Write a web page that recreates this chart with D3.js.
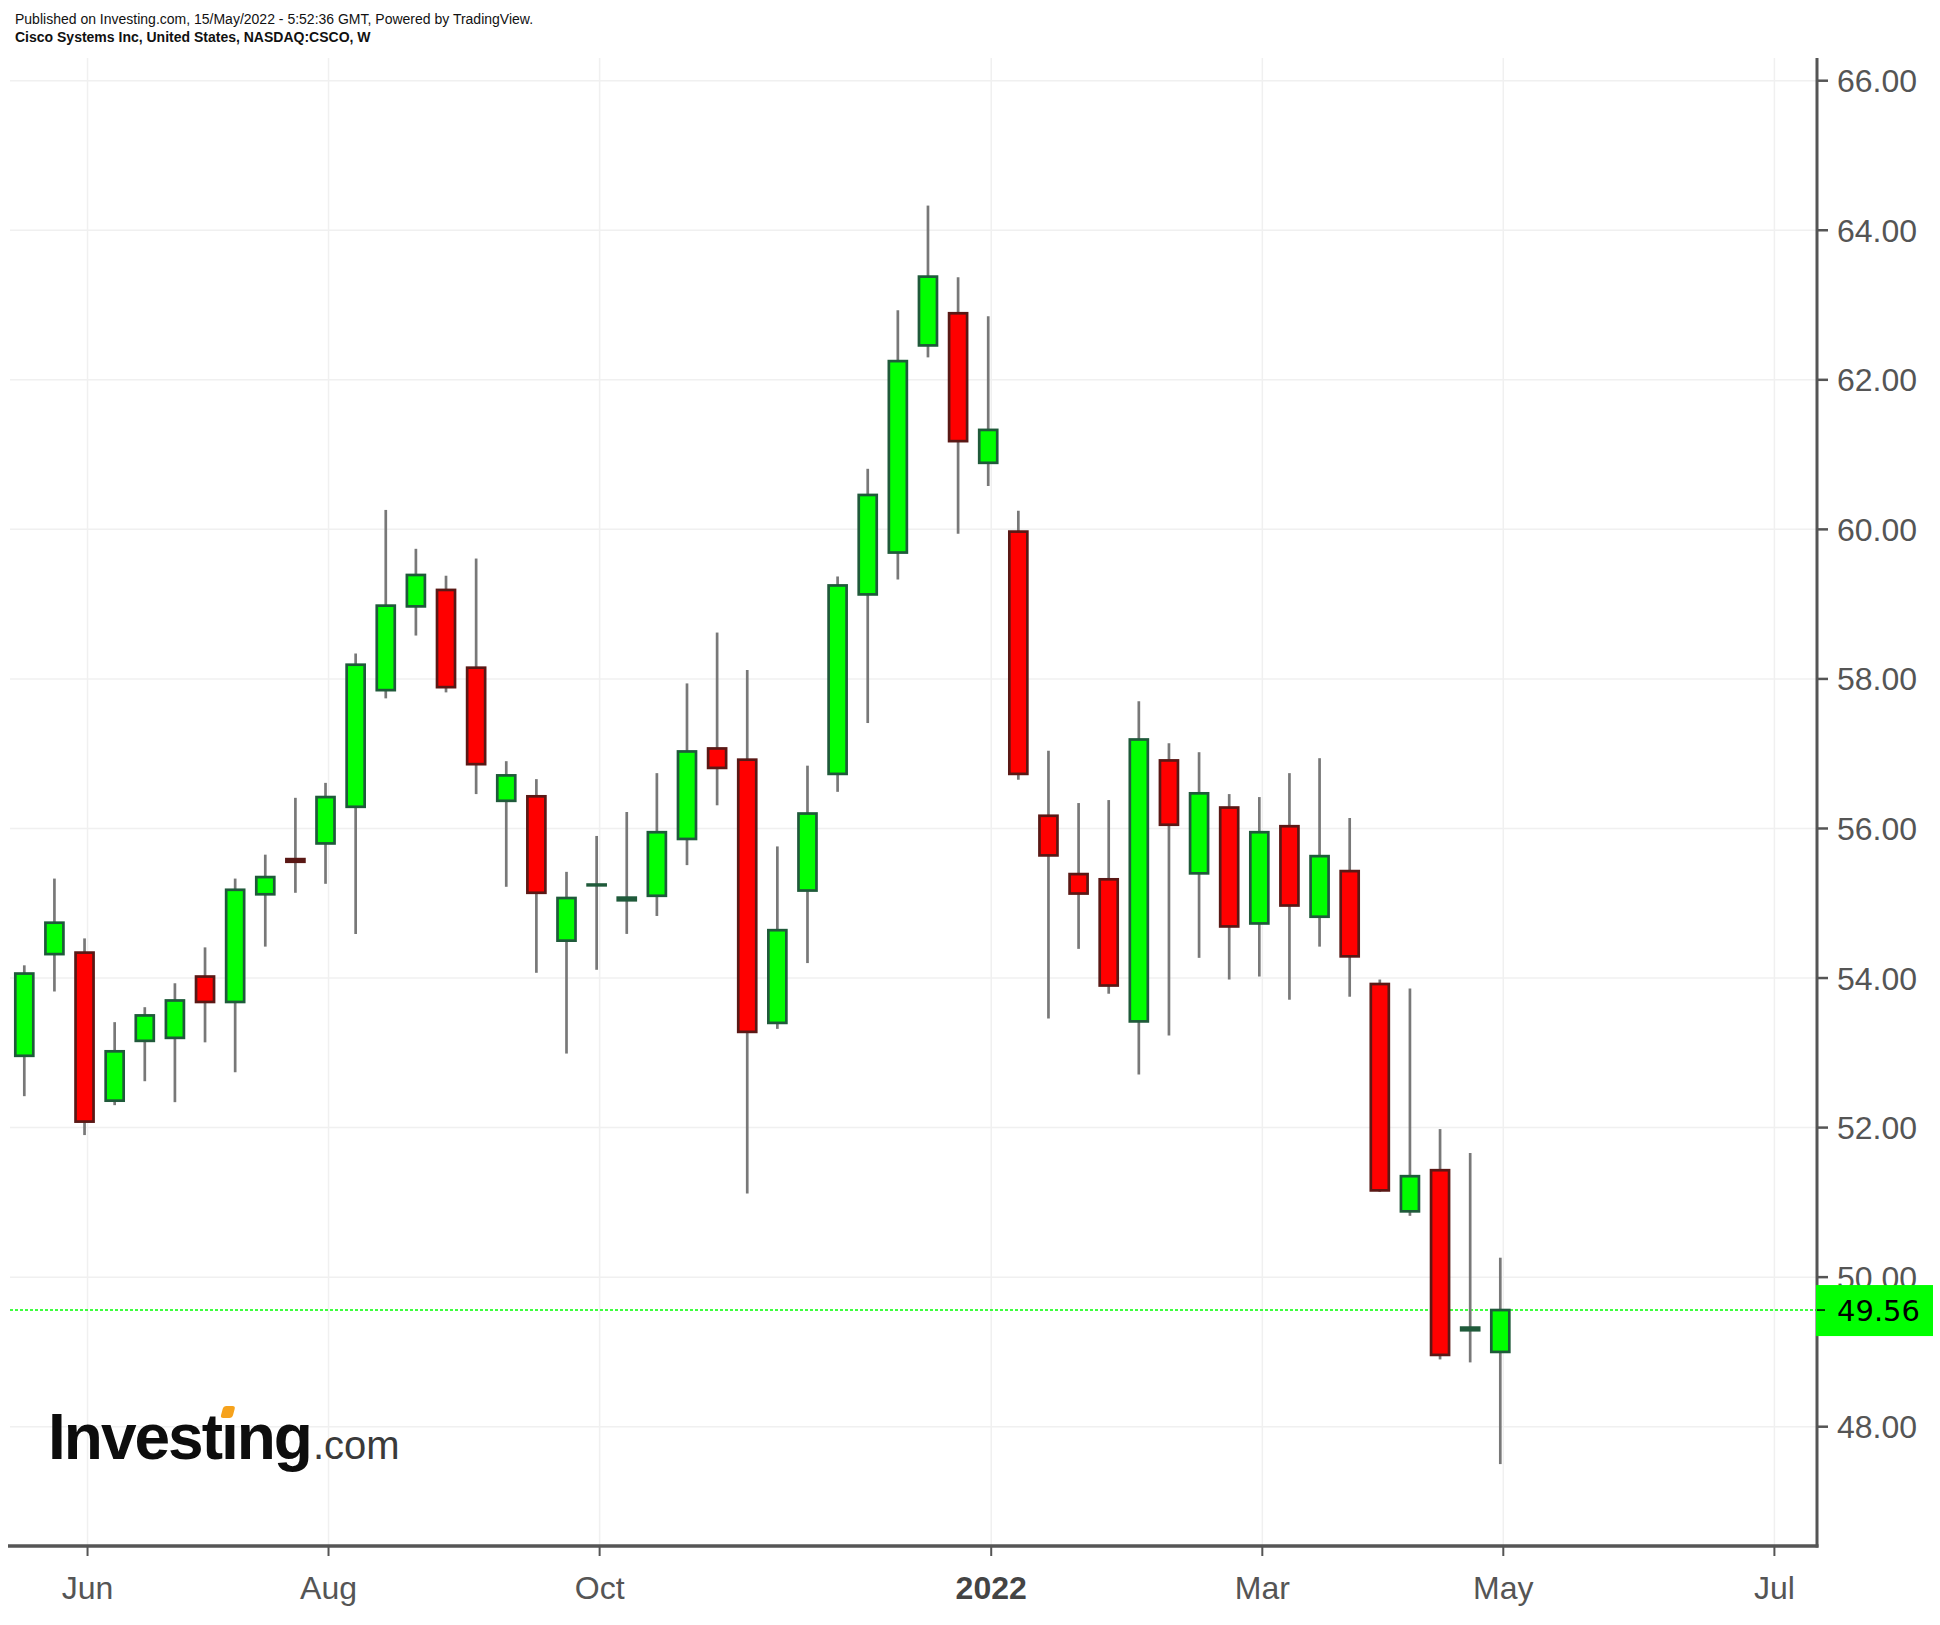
<!DOCTYPE html>
<html>
<head>
<meta charset="utf-8">
<script src="https://cdn.jsdelivr.net/npm/d3@7/dist/d3.min.js"></script>
<style>
html,body{margin:0;padding:0;background:#fff;}
svg{display:block;}
</style>
</head>
<body>
<svg id="chart" width="1940" height="1625"></svg>
<script>
// ---- data ----
const weeks = ["2021-05-31","2021-06-07","2021-06-14","2021-06-21","2021-06-28","2021-07-05","2021-07-12","2021-07-19","2021-07-26","2021-08-02",
"2021-08-09","2021-08-16","2021-08-23","2021-08-30","2021-09-06","2021-09-13","2021-09-20","2021-09-27","2021-10-04","2021-10-11",
"2021-10-18","2021-10-25","2021-11-01","2021-11-08","2021-11-15","2021-11-22","2021-11-29","2021-12-06","2021-12-13","2021-12-20",
"2021-12-27","2022-01-03","2022-01-10","2022-01-17","2022-01-24","2022-01-31","2022-02-07","2022-02-14","2022-02-21","2022-02-28",
"2022-03-07","2022-03-14","2022-03-21","2022-03-28","2022-04-04","2022-04-11","2022-04-18","2022-04-25","2022-05-02","2022-05-09"];
const openV  = [52.96,54.32,54.34,52.36,53.16,53.20,54.02,53.68,55.12,55.59,55.80,56.29,57.85,58.97,59.19,58.15,56.37,56.43,54.50,55.24,
55.04,55.10,55.86,57.07,56.92,53.40,55.17,56.73,59.13,59.69,62.46,62.89,60.89,59.97,56.17,55.39,55.32,53.42,56.91,55.40,
56.28,54.73,56.03,54.82,55.43,53.92,50.88,51.43,49.29,49.00];
const highV  = [54.17,55.33,54.53,53.41,53.61,53.93,54.41,55.33,55.65,56.41,56.61,58.34,60.26,59.74,59.38,59.61,56.90,56.66,55.42,55.90,
56.22,56.74,57.94,58.62,58.12,55.76,56.84,59.37,60.81,62.93,64.33,63.37,62.85,60.25,57.04,56.34,56.38,57.70,57.14,57.02,
56.46,56.42,56.74,56.94,56.14,53.98,53.86,51.98,51.66,50.26];
const lowV   = [52.42,53.82,51.90,52.30,52.62,52.34,53.14,52.74,54.42,55.14,55.26,54.59,57.74,58.58,57.82,56.46,55.22,54.07,52.99,54.11,
54.59,54.83,55.51,56.31,51.12,53.32,54.20,56.49,57.41,59.33,62.30,59.94,60.58,56.65,53.46,54.39,53.79,52.71,53.23,54.27,
53.98,54.02,53.71,54.42,53.75,51.14,50.82,48.90,48.86,47.50];
const closeV = [54.06,54.74,52.08,53.02,53.50,53.70,53.68,55.18,55.35,55.555,56.42,58.19,58.98,59.39,57.89,56.86,56.71,55.14,55.07,55.25,
55.075,55.95,57.03,56.81,53.28,54.64,56.20,59.25,60.46,62.25,63.38,61.18,61.33,56.73,55.64,55.13,53.90,57.19,56.05,56.47,
54.69,55.95,54.97,55.63,54.29,51.16,51.35,48.96,49.325,49.56];
const lastPrice = 49.56;
const yTicks = [48,50,52,54,56,58,60,62,64,66];
const xTickLabels = ["Jun","Aug","Oct","2022","Mar","May","Jul"];
const xTickIndex  = [2,10,19,32,41,49,58];
const xTickBold   = [false,false,false,true,false,false,false];

const candles = weeks.map((w,i)=>({date:w,o:openV[i],h:highV[i],l:lowV[i],c:closeV[i],i:i}));

// ---- layout ----
const svg = d3.select("#chart");
const plotLeft = 9, plotRight = 1817, plotTop = 58, plotBottom = 1546;
const x = d3.scaleLinear().domain([0,49]).range([24.3,1500.3]);
const y = d3.scaleLinear().domain([48,66]).range([1426.7,80.7]);
const tickShift = 3;

// header
svg.append("text").attr("x",15).attr("y",24)
  .attr("font-family","'Liberation Sans', Arial, sans-serif").attr("font-size",14).attr("fill","#111")
  .text("Published on Investing.com, 15/May/2022 - 5:52:36 GMT, Powered by TradingView.");
svg.append("text").attr("x",15).attr("y",42)
  .attr("font-family","'Liberation Sans', Arial, sans-serif").attr("font-size",14).attr("font-weight","bold").attr("fill","#111")
  .text("Cisco Systems Inc, United States, NASDAQ:CSCO, W");

// grid
const grid = svg.append("g");
grid.selectAll("line.h").data(yTicks).join("line")
  .attr("x1",plotLeft+1).attr("x2",plotRight).attr("y1",d=>y(d)).attr("y2",d=>y(d))
  .attr("stroke","#f0f0f0").attr("stroke-width",1.5);
grid.selectAll("line.v").data(xTickIndex).join("line")
  .attr("x1",d=>x(d)+tickShift).attr("x2",d=>x(d)+tickShift).attr("y1",plotTop).attr("y2",plotBottom)
  .attr("stroke","#f0f0f0").attr("stroke-width",1.5);

// logo
const logo = svg.append("g");
const inv = logo.append("text").attr("x",48).attr("y",1459)
  .attr("font-family","'Liberation Sans', Arial, sans-serif").attr("font-size",64).attr("font-weight","bold")
  .attr("letter-spacing","-2").attr("fill","#0d0d0d").text("Investıng");
let invEnd = 316, dotX = 233;
try {
  const n = inv.node();
  invEnd = 48 + n.getComputedTextLength();
  const p = n.getStartPositionOfChar(6), e = n.getEndPositionOfChar(6);
  dotX = (p.x + e.x)/2 - 1;
} catch(err) {}
logo.append("rect").attr("x",dotX-6).attr("y",1406).attr("width",12).attr("height",12)
  .attr("rx",3).attr("fill","#f6a21c").attr("transform",`skewX(-15) translate(${(1412)*Math.tan(15*Math.PI/180)},0)`);
logo.append("text").attr("x",invEnd+2).attr("y",1459)
  .attr("font-family","'Liberation Sans', Arial, sans-serif").attr("font-size",40)
  .attr("fill","#3a3a3a").text(".com");

// price line
svg.append("line").attr("x1",plotLeft+1).attr("x2",plotRight).attr("y1",y(lastPrice)).attr("y2",y(lastPrice))
  .attr("stroke","#00ff00").attr("stroke-width",1.5).attr("stroke-dasharray","3,2");

// candles
const upFill="#00ff00", upLine="#1f5a3a", dnFill="#ff0000", dnLine="#5a1815", wickCol="#787878";
const g = svg.append("g");
g.selectAll("line.wick").data(candles).join("line")
  .attr("x1",d=>x(d.i)).attr("x2",d=>x(d.i)).attr("y1",d=>y(d.h)).attr("y2",d=>y(d.l))
  .attr("stroke",wickCol).attr("stroke-width",2.7);
g.selectAll("rect.body").data(candles).join("rect")
  .attr("x",d=>x(d.i)-9).attr("width",18)
  .attr("y",d=>y(Math.max(d.o,d.c)))
  .attr("height",d=>Math.max(Math.abs(y(d.o)-y(d.c)),0.05))
  .attr("fill",d=>d.c>=d.o?upFill:dnFill)
  .attr("stroke",d=>d.c>=d.o?upLine:dnLine)
  .attr("stroke-width",2.7);

// axes
svg.append("line").attr("x1",plotRight).attr("x2",plotRight).attr("y1",plotTop).attr("y2",plotBottom+1.5)
  .attr("stroke","#555").attr("stroke-width",3);
svg.append("line").attr("x1",plotLeft-1).attr("x2",plotRight+1.5).attr("y1",plotBottom).attr("y2",plotBottom)
  .attr("stroke","#555").attr("stroke-width",3.5);

// y ticks
const yAxis = svg.append("g");
yAxis.selectAll("line").data(yTicks).join("line")
  .attr("x1",plotRight).attr("x2",plotRight+11).attr("y1",d=>y(d)).attr("y2",d=>y(d))
  .attr("stroke","#555").attr("stroke-width",2.5);
yAxis.selectAll("text").data(yTicks).join("text")
  .attr("x",1837).attr("y",d=>y(d)).attr("dy","0.36em")
  .attr("font-family","'Liberation Sans', Arial, sans-serif").attr("font-size",32).attr("fill","#555")
  .text(d=>d3.format(".2f")(d));

// x ticks
const xAxis = svg.append("g");
xAxis.selectAll("line").data(xTickIndex).join("line")
  .attr("x1",d=>x(d)+tickShift).attr("x2",d=>x(d)+tickShift).attr("y1",plotBottom).attr("y2",plotBottom+10)
  .attr("stroke","#555").attr("stroke-width",2);
xAxis.selectAll("text").data(xTickIndex).join("text")
  .attr("x",d=>x(d)+tickShift).attr("y",1599).attr("text-anchor","middle")
  .attr("font-family","'Liberation Sans', Arial, sans-serif").attr("font-size",32)
  .attr("font-weight",(d,i)=>xTickBold[i]?"bold":"normal")
  .attr("fill",(d,i)=>xTickBold[i]?"#444":"#555")
  .text((d,i)=>xTickLabels[i]);

// last price label
const py = y(lastPrice);
svg.append("rect").attr("x",plotRight-1).attr("y",py-25).attr("width",117).attr("height",51).attr("fill","#00ff00");
svg.append("line").attr("x1",plotRight).attr("x2",plotRight+8).attr("y1",py).attr("y2",py).attr("stroke","#000").attr("stroke-width",1.5);
svg.append("text").attr("x",1837).attr("y",py).attr("dy","0.37em")
  .attr("font-family","'DejaVu Sans', sans-serif").attr("font-size",29).attr("fill","#000")
  .text(d3.format(".2f")(lastPrice));
</script>
</body>
</html>
